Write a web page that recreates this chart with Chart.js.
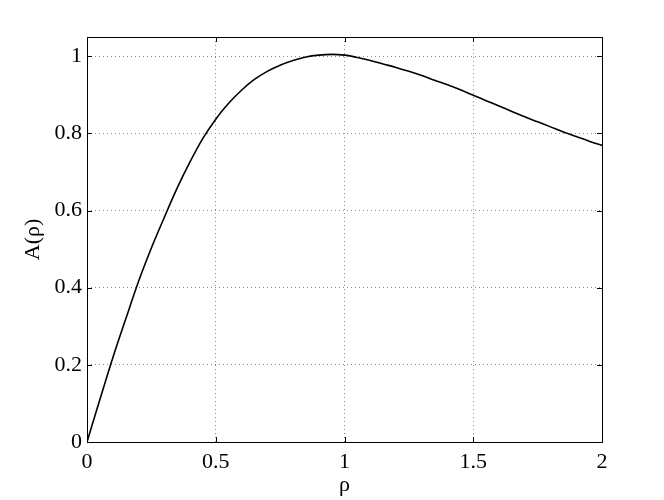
<!DOCTYPE html>
<html>
<head>
<meta charset="utf-8">
<script src="https://cdn.jsdelivr.net/npm/chart.js@4/dist/chart.umd.min.js"></script>
<style>
    html, body { margin: 0; padding: 0; background: #fff; }
</style>
</head>
<body>
<canvas id="ampChart" width="664" height="500"></canvas>
<script>
const rho = [0, 0.05, 0.1, 0.15, 0.2, 0.25, 0.3, 0.35, 0.4, 0.45, 0.5, 0.55, 0.6, 0.65,
    0.7, 0.75, 0.8, 0.85, 0.9, 0.95, 1.0, 1.05, 1.1, 1.15, 1.2, 1.25, 1.3, 1.35, 1.4,
    1.45, 1.5, 1.55, 1.6, 1.65, 1.7, 1.75, 1.8, 1.85, 1.9, 1.95, 2.0];
const amplitude = [0, 0.110, 0.218, 0.318, 0.416, 0.503, 0.582, 0.658, 0.726, 0.787, 0.837,
    0.878, 0.912, 0.940, 0.961, 0.977, 0.989, 0.998, 1.003, 1.005, 1.003, 0.997, 0.989,
    0.980, 0.971, 0.961, 0.950, 0.938, 0.926, 0.913, 0.899, 0.885, 0.871, 0.857, 0.843,
    0.830, 0.817, 0.804, 0.792, 0.780, 0.769];
const xTicks = [0, 0.5, 1, 1.5, 2];
const yTicks = [0, 0.2, 0.4, 0.6, 0.8, 1];

const serif = "'Liberation Serif', 'Times New Roman', serif";

// Box around the plot plus MATLAB style inward ticks
const frameTicks = {
    id: 'frameTicks',
    afterDraw(chart) {
        const { ctx, chartArea: a, scales } = chart;
        const len = 5;
        ctx.save();
        ctx.strokeStyle = '#000';
        ctx.lineWidth = 1;
        ctx.beginPath();
        scales.x.ticks.forEach(t => {
            const px = Math.round(scales.x.getPixelForValue(t.value)) + 0.5;
            ctx.moveTo(px, a.bottom); ctx.lineTo(px, a.bottom - len);
            ctx.moveTo(px, a.top); ctx.lineTo(px, a.top + len);
        });
        scales.y.ticks.forEach(t => {
            const py = Math.round(scales.y.getPixelForValue(t.value)) + 0.5;
            ctx.moveTo(a.left, py); ctx.lineTo(a.left + len, py);
            ctx.moveTo(a.right, py); ctx.lineTo(a.right - len, py);
        });
        ctx.stroke();
        ctx.strokeRect(Math.round(a.left) + 0.5, Math.round(a.top) + 0.5,
            Math.round(a.right - a.left), Math.round(a.bottom - a.top));
        ctx.restore();
    }
};

const dottedGrid = { color: '#8c8c8c', lineWidth: 1, drawTicks: false };
// in v4 the grid line dash sits under border
const hiddenBorder = { display: false, dash: [1, 3] };

const ctx = document.getElementById('ampChart');
new Chart(ctx, {
    type: 'line',
    data: {
        datasets: [{
            data: rho.map((r, i) => ({ x: r, y: amplitude[i] })),
            borderColor: '#000',
            borderWidth: 1.6,
            pointRadius: 0,
            cubicInterpolationMode: 'monotone',
            fill: false
        }]
    },
    options: {
        responsive: false,
        animation: false,
        layout: { padding: { left: 0, top: 37, right: 62, bottom: 0 } },
        plugins: {
            legend: { display: false },
            tooltip: { enabled: false }
        },
        scales: {
            x: {
                type: 'linear',
                min: 0,
                max: 2,
                afterBuildTicks: scale => { scale.ticks = xTicks.map(v => ({ value: v })); },
                afterFit: scale => { scale.height = 58; },
                border: hiddenBorder,
                grid: dottedGrid,
                ticks: {
                    color: '#000',
                    padding: 7,
                    maxRotation: 0,
                    callback: v => String(v),
                    font: { family: serif, size: 22 }
                },
                title: {
                    display: true,
                    text: 'ρ',
                    color: '#000',
                    padding: { top: 0, bottom: 2 },
                    font: { family: serif, size: 22 }
                }
            },
            y: {
                min: 0,
                max: 1.05,
                afterBuildTicks: scale => { scale.ticks = yTicks.map(v => ({ value: v })); },
                afterFit: scale => { scale.width = 87; },
                border: hiddenBorder,
                grid: dottedGrid,
                ticks: {
                    color: '#000',
                    padding: 5,
                    callback: v => String(v),
                    font: { family: serif, size: 22 }
                },
                title: {
                    display: true,
                    text: 'A(ρ)',
                    color: '#000',
                    padding: { top: 20, bottom: 0 },
                    font: { family: serif, size: 22 }
                }
            }
        }
    },
    plugins: [frameTicks]
});
</script>
</body>
</html>
